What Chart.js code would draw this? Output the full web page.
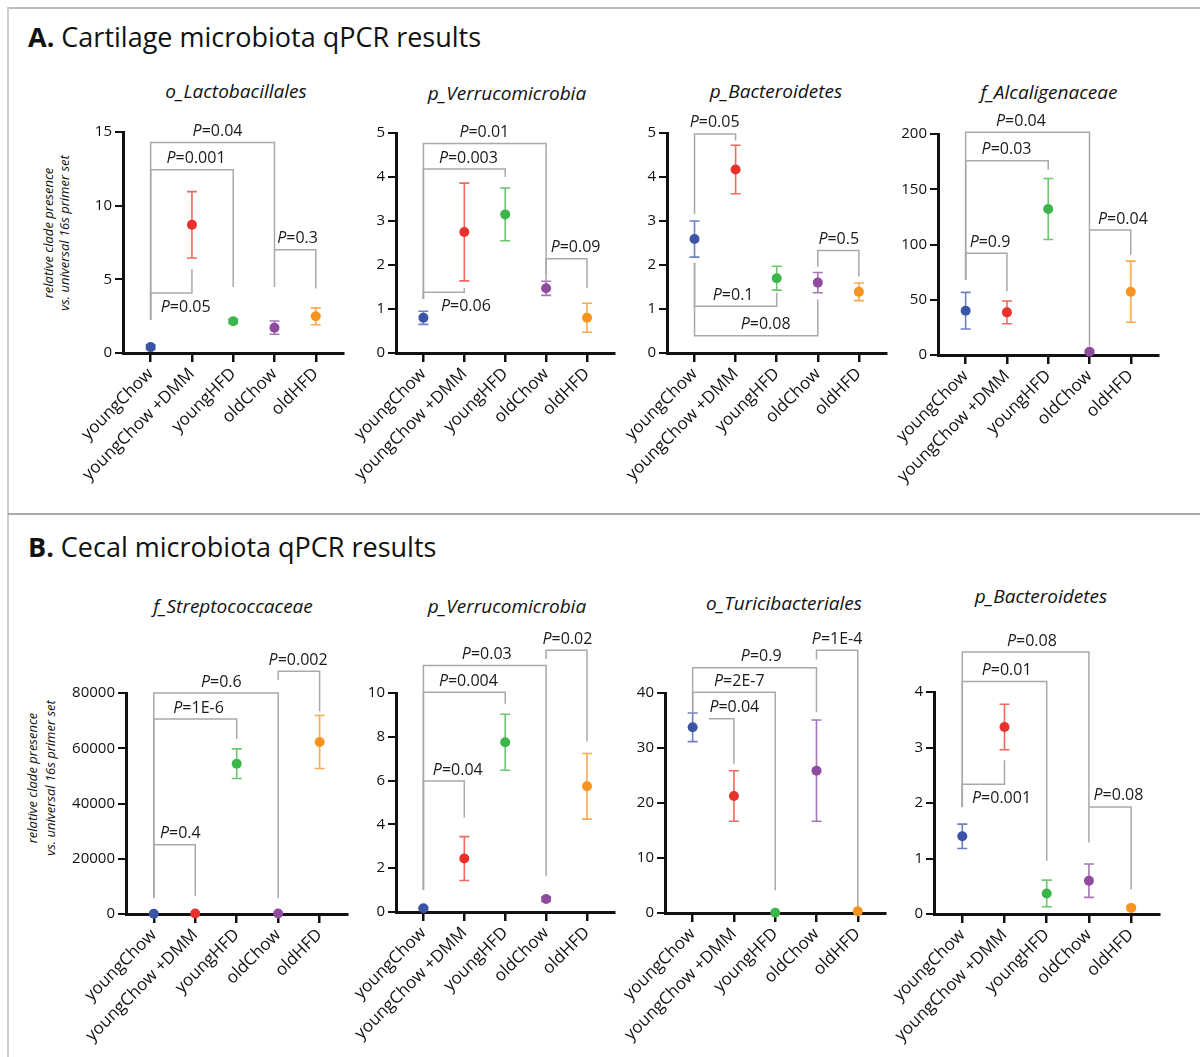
<!DOCTYPE html>
<html>
<head>
<meta charset="utf-8">
<script src="https://cdn.jsdelivr.net/npm/chart.js@4.4.1/dist/chart.umd.min.js"></script>
<style>
  body { margin: 0; width: 1200px; height: 1057px; position: relative; background: #fff; overflow: hidden; font-family: "Open Sans", sans-serif; color: #111; }
  .line { position: absolute; }
  .panel-title { position: absolute; left: 28px; font-size: 27px; line-height: 1; white-space: nowrap; }
  .chart-title { position: absolute; font-size: 19px; line-height: 1; font-style: italic; white-space: nowrap; transform: translateX(-50%); }
  .ylab { position: absolute; font-size: 13px; font-style: italic; text-align: center; white-space: nowrap; transform: translate(-50%, -50%) rotate(-90deg); }
  canvas { position: absolute; }
</style>
</head>
<body>
<div class="line" style="left:8px;top:7px;width:1192px;height:1.5px;background:#bdbdbd"></div>
<div class="line" style="left:7px;top:7px;width:2px;height:1050px;background:#cfcfcf"></div>
<div class="line" style="left:8px;top:513px;width:1192px;height:1.5px;background:#a9a9a9"></div>

<div class="panel-title" style="top:23px"><b>A.</b> Cartilage microbiota qPCR results</div>
<div class="panel-title" style="top:533px"><b>B.</b> Cecal microbiota qPCR results</div>

<div class="chart-title" style="left:236px;top:82px">o_Lactobacillales</div>
<div class="chart-title" style="left:507px;top:84px">p_Verrucomicrobia</div>
<div class="chart-title" style="left:776px;top:82px">p_Bacteroidetes</div>
<div class="chart-title" style="left:1049px;top:83px">f_Alcaligenaceae</div>
<div class="chart-title" style="left:233px;top:597px">f_Streptococcaceae</div>
<div class="chart-title" style="left:507px;top:597px">p_Verrucomicrobia</div>
<div class="chart-title" style="left:784px;top:594px">o_Turicibacteriales</div>
<div class="chart-title" style="left:1041px;top:587px">p_Bacteroidetes</div>

<div class="ylab" style="left:56px;top:233px;line-height:16px">relative clade presence<br>vs. universal 16s primer set</div>
<div class="ylab" style="left:41px;top:778px;line-height:18px">relative clade presence<br>vs. universal 16s primer set</div>

<canvas id="c1"></canvas>
<canvas id="c2"></canvas>
<canvas id="c3"></canvas>
<canvas id="c4"></canvas>
<canvas id="c5"></canvas>
<canvas id="c6"></canvas>
<canvas id="c7"></canvas>
<canvas id="c8"></canvas>

<script>
const groups = ["youngChow", "youngChow +DMM", "youngHFD", "oldChow", "oldHFD"];

// A. cartilage
const lactoMean = [0.4, 8.7, 2.15, 1.72, 2.49];
const lactoErr = [0.15, 2.25, 0.15, 0.45, 0.57];
const lactoP = [
    { from: 0, to: 1, level: 4.07, footA: 2.26, footB: 5.7, p: "0.05", at: 0.85, below: true },
    { from: 0, to: 2, level: 12.44, footA: 2.26, footB: 4.48, p: "0.001", at: 1.1 },
    { from: 0, to: 3, level: 14.28, footA: 2.26, footB: 4.48, p: "0.04", at: 1.62 },
    { from: 3, to: 4, level: 7.01, footA: 7.01, footB: 4.37, p: "0.3", at: 3.56 }
];

const verruAMean = [0.8, 2.75, 3.15, 1.47, 0.8];
const verruAErr = [0.15, 1.11, 0.6, 0.16, 0.33];
const verruAP = [
    { from: 0, to: 1, level: 1.38, footA: 1.23, footB: 1.48, p: "0.06", at: 1.04, below: true },
    { from: 0, to: 2, level: 4.18, footA: 1.23, footB: 4.0, p: "0.003", at: 1.1 },
    { from: 0, to: 3, level: 4.76, footA: 1.23, footB: 1.65, p: "0.01", at: 1.49 },
    { from: 3, to: 4, level: 2.14, footA: 1.79, footB: 1.47, p: "0.09", at: 3.72 }
];

const bactAMean = [2.59, 4.17, 1.7, 1.6, 1.39];
const bactAErr = [0.41, 0.55, 0.27, 0.23, 0.2];
const bactAP = [
    { from: 0, to: 1, level: 4.98, footA: 3.16, footB: 4.83, p: "0.05", at: 0.49 },
    { from: 0, to: 2, level: 1.06, footA: 2.05, footB: 1.37, p: "0.1", at: 0.94 },
    { from: 0, to: 3, level: 0.39, footA: 2.05, footB: 1.22, p: "0.08", at: 1.73 },
    { from: 3, to: 4, level: 2.33, footA: 1.96, footB: 1.74, p: "0.5", at: 3.51 }
];

const alcalMean = [40.1, 38.6, 132.1, 3.0, 57.3];
const alcalErr = [16.6, 10.3, 27.6, 1, 27.7];
const alcalP = [
    { from: 0, to: 1, level: 92, footA: 68.2, footB: 57.6, p: "0.9", at: 0.59 },
    { from: 0, to: 2, level: 175.9, footA: 68.2, footB: 167.7, p: "0.03", at: 0.99 },
    { from: 0, to: 3, level: 201.5, footA: 68.2, footB: 7.8, p: "0.04", at: 1.34 },
    { from: 3, to: 4, level: 113.1, footA: 113.1, footB: 90.8, p: "0.04", at: 3.81 }
];

// B. cecal
const strepMean = [100, 150, 54420, 200, 62260];
const strepErr = [0, 0, 5370, 0, 9600];
const strepP = [
    { from: 0, to: 1, level: 25100, footA: 5790, footB: 6640, p: "0.4", at: 0.64 },
    { from: 0, to: 2, level: 70590, footA: 5790, footB: 63350, p: "1E-6", at: 1.08 },
    { from: 0, to: 3, level: 80000, footA: 5790, footB: 5790, p: "0.6", at: 1.63 },
    { from: 3, to: 4, level: 87840, footA: 84830, footB: 73360, p: "0.002", at: 3.48 }
];

const verruBMean = [0.17, 2.44, 7.75, 0.59, 5.74];
const verruBErr = [0.05, 1.0, 1.28, 0.1, 1.5];
const verruBP = [
    { from: 0, to: 1, level: 5.98, footA: 1.02, footB: 4.31, p: "0.04", at: 0.84 },
    { from: 0, to: 2, level: 10.03, footA: 1.02, footB: 9.51, p: "0.004", at: 1.1 },
    { from: 0, to: 3, level: 11.26, footA: 1.02, footB: 1.63, p: "0.03", at: 1.55 },
    { from: 3, to: 4, level: 11.95, footA: 11.55, footB: 7.79, p: "0.02", at: 3.52 }
];

const turicMean = [33.76, 21.27, 0.05, 25.88, 0.3];
const turicErr = [2.6, 4.6, 0, 9.2, 0];
const turicP = [
    { from: 0.39, to: 1, level: 35.33, footA: 35.33, footB: 27.15, p: "0.04", at: 1.01 },
    { from: 0, to: 2, level: 40.12, footA: 36.5, footB: 4.12, p: "2E-7", at: 1.13 },
    { from: 0, to: 3, level: 44.6, footA: 36.5, footB: 36.5, p: "0.9", at: 1.66 },
    { from: 3, to: 4, level: 47.76, footA: 46.1, footB: 1.09, p: "1E-4", at: 3.5 }
];

const bactBMean = [1.4, 3.37, 0.37, 0.6, 0.11];
const bactBErr = [0.22, 0.41, 0.24, 0.3, 0.03];
const bactBP = [
    { from: 0, to: 1, level: 2.34, footA: 1.93, footB: 2.77, p: "0.001", at: 0.93, below: true },
    { from: 0, to: 2, level: 4.19, footA: 1.93, footB: 0.96, p: "0.01", at: 1.05 },
    { from: 0, to: 3, level: 4.72, footA: 1.93, footB: 1.29, p: "0.08", at: 1.65 },
    { from: 3, to: 4, level: 1.93, footA: 1.93, footB: 0.44, p: "0.08", at: 3.7 }
];

const pointColors = ["#3c54a5", "#e8312a", "#3cb54a", "#8f4b9f", "#f7931e"];
const errColors = ["#6f80c2", "#ef6a5c", "#6cc771", "#a775b5", "#f8ab52"];

const Y_AXIS_W = 110, X_AXIS_H = 140, PAD_TOP = 70, PAD_RIGHT = 10;

function drawP(ctx, text, cx, cy) {
    ctx.font = "italic 16px 'Open Sans'";
    const wP = ctx.measureText("P").width;
    ctx.font = "16px 'Open Sans'";
    const rest = "=" + text;
    const wR = ctx.measureText(rest).width;
    const x0 = cx - (wP + wR) / 2;
    ctx.textAlign = "left";
    ctx.textBaseline = "middle";
    ctx.fillStyle = "#1a1a1a";
    ctx.font = "italic 16px 'Open Sans'";
    ctx.fillText("P", x0, cy);
    ctx.font = "16px 'Open Sans'";
    ctx.fillText(rest, x0 + wP, cy);
}

// brackets + error bars, drawn under the points
const qpcrMarks = {
    id: "qpcrMarks",
    beforeDatasetsDraw(chart, args, opts) {
        const ctx = chart.ctx;
        const xs = chart.scales.x, ys = chart.scales.y;
        ctx.save();
        ctx.strokeStyle = "#a9a9a9";
        ctx.lineWidth = 1.5;
        opts.brackets.forEach(b => {
            const xa = xs.getPixelForValue(b.from), xb = xs.getPixelForValue(b.to);
            const yl = ys.getPixelForValue(b.level);
            ctx.beginPath();
            ctx.moveTo(xa, ys.getPixelForValue(b.footA));
            ctx.lineTo(xa, yl);
            ctx.lineTo(xb, yl);
            ctx.lineTo(xb, ys.getPixelForValue(b.footB));
            ctx.stroke();
            drawP(ctx, b.p, xs.getPixelForValue(b.at), b.below ? yl + 14 : yl - 11);
        });
        ctx.lineWidth = 1.6;
        opts.means.forEach((m, i) => {
            const e = opts.errs[i];
            if (!e) return;
            const x = xs.getPixelForValue(i);
            const yt = ys.getPixelForValue(m + e), yb = ys.getPixelForValue(m - e);
            ctx.strokeStyle = errColors[i];
            ctx.beginPath();
            ctx.moveTo(x, yt); ctx.lineTo(x, yb);
            ctx.moveTo(x - 5, yt); ctx.lineTo(x + 5, yt);
            ctx.moveTo(x - 5, yb); ctx.lineTo(x + 5, yb);
            ctx.stroke();
        });
        ctx.restore();
    }
};

function makeChart(id, area, means, errs, brackets, yMax, yStep) {
    const canvas = document.getElementById(id);
    const w = Y_AXIS_W + (area.right - area.left) + PAD_RIGHT;
    const h = PAD_TOP + (area.bottom - area.top) + X_AXIS_H;
    canvas.width = w;
    canvas.height = h;
    canvas.style.left = (area.left - Y_AXIS_W) + "px";
    canvas.style.top = (area.top - PAD_TOP) + "px";

    return new Chart(canvas, {
        type: "scatter",
        data: {
            datasets: [{
                data: means.map((m, i) => ({ x: i, y: m })),
                pointRadius: 5,
                pointHoverRadius: 5,
                pointBorderWidth: 0,
                pointBackgroundColor: pointColors,
                clip: false
            }]
        },
        options: {
            responsive: false,
            animation: false,
            devicePixelRatio: 1,
            layout: { padding: { top: PAD_TOP, right: PAD_RIGHT, left: 0, bottom: 0 } },
            plugins: {
                legend: { display: false },
                tooltip: { enabled: false },
                qpcrMarks: { means: means, errs: errs, brackets: brackets }
            },
            scales: {
                x: {
                    type: "linear",
                    min: -0.67,
                    max: 4.66,
                    afterFit: s => { s.height = X_AXIS_H; },
                    grid: { drawOnChartArea: false, drawTicks: true, tickLength: 9, color: "#111", lineWidth: 2.5 },
                    border: { display: true, color: "#111", width: 3 },
                    ticks: {
                        stepSize: 1,
                        includeBounds: false,
                        autoSkip: false,
                        minRotation: 45,
                        maxRotation: 45,
                        padding: 2,
                        color: "#111",
                        font: { family: "Open Sans", size: 17 },
                        callback: v => groups[v]
                    }
                },
                y: {
                    min: 0,
                    max: yMax,
                    afterFit: s => { s.width = Y_AXIS_W; },
                    grid: { drawOnChartArea: false, drawTicks: true, tickLength: 8, color: "#111", lineWidth: 2 },
                    border: { display: true, color: "#111", width: 3 },
                    ticks: {
                        stepSize: yStep,
                        autoSkip: false,
                        padding: 3,
                        color: "#111",
                        font: { family: "Open Sans", size: 15 },
                        callback: v => String(v)
                    }
                }
            }
        },
        plugins: [qpcrMarks]
    });
}

makeChart("c1", { left: 123, right: 343, top: 132, bottom: 353 }, lactoMean, lactoErr, lactoP, 15, 5);
makeChart("c2", { left: 396, right: 614, top: 133, bottom: 353 }, verruAMean, verruAErr, verruAP, 5, 1);
makeChart("c3", { left: 667, right: 886, top: 133, bottom: 353 }, bactAMean, bactAErr, bactAP, 5, 1);
makeChart("c4", { left: 938, right: 1158, top: 134, bottom: 355 }, alcalMean, alcalErr, alcalP, 200, 50);
makeChart("c5", { left: 126, right: 347, top: 693, bottom: 914 }, strepMean, strepErr, strepP, 80000, 20000);
makeChart("c6", { left: 396, right: 614, top: 693, bottom: 912 }, verruBMean, verruBErr, verruBP, 10, 2);
makeChart("c7", { left: 665, right: 885, top: 693, bottom: 913 }, turicMean, turicErr, turicP, 40, 10);
makeChart("c8", { left: 934, right: 1159, top: 692, bottom: 914 }, bactBMean, bactBErr, bactBP, 4, 1);
</script>
</body>
</html>
